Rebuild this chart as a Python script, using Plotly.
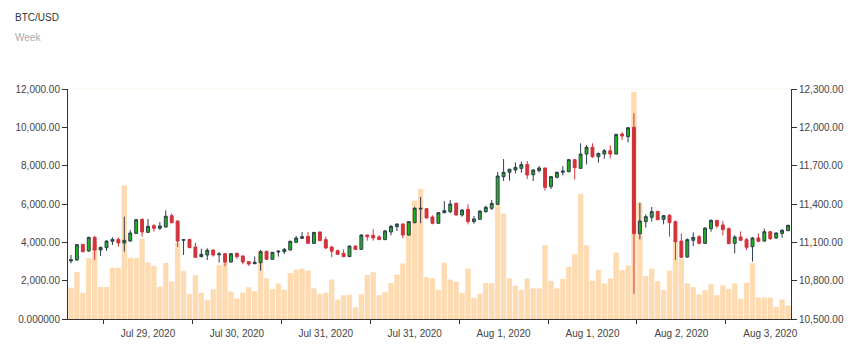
import plotly.graph_objects as go

# Hourly BTC/USD candles with traded volume underneath
volume = [
    1600, 2430, 1340, 3165, 3900, 1650, 1650, 2650, 2650, 6950,
    3180, 3150, 4175, 2920, 2745, 1670, 2900, 1930, 3950, 2485,
    1285, 2260, 1340, 957, 1530, 2785, 2940, 1410, 1045, 1355,
    1635, 1430, 3540, 2100, 1550, 1830, 1510, 2380, 2560, 2610,
    2500, 1580, 1290, 1360, 2040, 990, 1220, 1240, 590, 1270,
    2280, 2420, 1220, 1370, 1860, 2300, 2880, 5050, 6160, 6770,
    2170, 2100, 1510, 2910, 2035, 1930, 1340, 2610, 1080, 1300,
    1860, 1840, 5980, 5480, 2100, 1720, 1510, 2090, 1580, 1580,
    3830, 1970, 1580, 2070, 2700, 3360, 6500, 3830, 1980, 2540,
    1830, 2090, 3440, 2520, 2770, 11830, 6050, 2210, 2610, 1950,
    1480, 2500, 4050, 3110, 1840, 1650, 1270, 1480, 1790, 1220,
    1740, 1550, 1840, 1030, 1880, 2890, 1100, 1110, 1100, 610,
    990, 680,
]

open_ = [
    10954, 10962, 11084, 11032, 11139, 11040, 11058, 11108, 11123, 11095,
    11110, 11170, 11280, 11178, 11230, 11210, 11220, 11309, 11267, 11116,
    11123, 11063, 10988, 11001, 11040, 11003, 11011, 10946, 11014, 10993,
    10949, 10933, 10941, 11030, 10967, 11024, 11027, 11040, 11100, 11131,
    11147, 11092, 11181, 11121, 11063, 11035, 11014, 10988, 11071, 11045,
    11157, 11155, 11142, 11121, 11181, 11223, 11243, 11157, 11254, 11361,
    11363, 11298, 11249, 11332, 11340, 11405, 11314, 11358, 11262, 11280,
    11340, 11366, 11398, 11614, 11648, 11666, 11679, 11710, 11629, 11661,
    11682, 11536, 11609, 11648, 11653, 11747, 11679, 11791, 11844, 11770,
    11791, 11817, 11791, 11948, 11927, 12000, 11168, 11262, 11296, 11343,
    11280, 11311, 11262, 11110, 10985, 11116, 11144, 11092, 11207, 11272,
    11236, 11207, 11092, 11142, 11121, 11066, 11134, 11110, 11183, 11134,
    11170, 11191,
]
high = [
    11001, 11087, 11087, 11144, 11150, 11066, 11116, 11139, 11139, 11301,
    11197, 11283, 11288, 11283, 11243, 11259, 11350, 11327, 11270, 11126,
    11126, 11097, 11050, 11053, 11043, 11024, 11014, 11017, 11019, 10998,
    10951, 10990, 11040, 11032, 11024, 11040, 11056, 11113, 11150, 11181,
    11181, 11181, 11183, 11144, 11074, 11043, 11045, 11074, 11074, 11165,
    11160, 11204, 11157, 11197, 11236, 11249, 11249, 11267, 11379, 11455,
    11369, 11311, 11337, 11423, 11431, 11413, 11358, 11398, 11306, 11350,
    11387, 11431, 11650, 11752, 11676, 11726, 11731, 11736, 11672, 11697,
    11684, 11619, 11653, 11697, 11752, 11752, 11875, 11862, 11875, 11802,
    11830, 11859, 11950, 11961, 12003, 12110, 11410, 11319, 11377, 11345,
    11314, 11322, 11270, 11170, 11131, 11178, 11157, 11217, 11280, 11275,
    11267, 11215, 11155, 11186, 11134, 11142, 11170, 11207, 11189, 11178,
    11204, 11238,
]
low = [
    10936, 10957, 11022, 11027, 10962, 10993, 11032, 11079, 11066, 11027,
    11105, 11165, 11144, 11173, 11183, 11197, 11215, 11249, 11063, 11001,
    11056, 10980, 10983, 10962, 10988, 10941, 10912, 10941, 10970, 10928,
    10915, 10928, 10878, 10962, 10964, 10988, 11009, 11038, 11097, 11129,
    11089, 11089, 11110, 11048, 10983, 11003, 10985, 10985, 11043, 11043,
    11113, 11113, 11118, 11118, 11155, 11189, 11131, 11152, 11249, 11249,
    11288, 11241, 11246, 11327, 11327, 11309, 11301, 11241, 11246, 11277,
    11332, 11353, 11392, 11580, 11583, 11640, 11645, 11596, 11580, 11648,
    11504, 11517, 11601, 11624, 11648, 11593, 11676, 11710, 11762, 11723,
    11755, 11757, 11789, 11901, 11883, 10696, 11123, 11215, 11262, 11275,
    11241, 11144, 10962, 10977, 10980, 11071, 11084, 11087, 11183, 11210,
    11155, 11084, 11014, 11110, 11038, 10949, 11105, 11105, 11118, 11129,
    11136, 11189,
]
close = [
    10964, 11082, 11027, 11139, 11040, 11061, 11110, 11123, 11095, 11116,
    11173, 11277, 11181, 11225, 11210, 11228, 11304, 11254, 11110, 11121,
    11058, 10983, 11006, 11038, 11001, 11009, 10946, 11011, 10988, 10946,
    10930, 10944, 11027, 10967, 11022, 11030, 11045, 11108, 11134, 11144,
    11092, 11178, 11113, 11056, 11030, 11006, 10988, 11071, 11045, 11157,
    11144, 11134, 11121, 11189, 11225, 11243, 11157, 11262, 11366, 11366,
    11290, 11249, 11332, 11348, 11400, 11314, 11353, 11262, 11283, 11345,
    11374, 11405, 11619, 11648, 11672, 11687, 11708, 11627, 11666, 11682,
    11530, 11614, 11648, 11658, 11747, 11684, 11791, 11844, 11770, 11796,
    11817, 11791, 11945, 11932, 11997, 11168, 11267, 11301, 11340, 11277,
    11309, 11254, 11105, 10983, 11121, 11139, 11092, 11212, 11272, 11228,
    11199, 11090, 11142, 11116, 11061, 11134, 11108, 11183, 11129, 11173,
    11194, 11233,
]

# Date labels, one per 15-hour block on the time axis
tick_labels = [
    "Jul 29, 2020", "Jul 30, 2020", "Jul 31, 2020", "Jul 31, 2020",
    "Aug 1, 2020", "Aug 1, 2020", "Aug 2, 2020", "Aug 3, 2020",
]
first_block = 6
block_len = 15

vol_ticks = [0, 2000, 4000, 6000, 8000, 10000, 12000]
vol_tick_text = ["0.000000"] + [f"{v:,.2f}" for v in vol_ticks[1:]]
price_ticks = [10500, 10800, 11100, 11400, 11700, 12000, 12300]
price_tick_text = [f"{v:,.2f}" for v in price_ticks]

n = len(volume)
idx = list(range(n))
block_edges = [first_block - 0.5 + block_len * k for k in range(len(tick_labels))]
block_mids = [e + block_len / 2 for e in block_edges]

FONT = "Arial, 'Liberation Sans', sans-serif"
AXIS = "#333333"
TEXT = "#444444"

fig = go.Figure()
fig.add_trace(go.Bar(
    x=idx, y=volume, xaxis="x", yaxis="y",
    marker=dict(color="#FFDBB0", line=dict(color="#FDD2A2", width=0.6)),
    hoverinfo="skip", showlegend=False,
))
fig.add_trace(go.Candlestick(
    x=idx, open=open_, high=high, low=low, close=close,
    xaxis="x", yaxis="y2",
    increasing=dict(line=dict(color="#2F3D4C", width=1), fillcolor="#1FB21F"),
    decreasing=dict(line=dict(color="#D2343C", width=1), fillcolor="#D2343C"),
    whiskerwidth=0, showlegend=False,
))

xr = [-0.5, n - 0.5]
fig.update_layout(
    width=865, height=350,
    margin=dict(l=68, r=74, t=89, b=31),
    paper_bgcolor="white", plot_bgcolor="white",
    bargap=0.25, boxgap=0.3,
    font=dict(family=FONT, size=10, color=TEXT),
    xaxis=dict(
        range=xr, showgrid=False, zeroline=False,
        showline=True, linecolor=AXIS, linewidth=1,
        tickmode="array", tickvals=block_mids, ticktext=tick_labels,
        ticks="outside", ticklen=5, tickcolor="rgba(0,0,0,0)",
        minor=dict(tickmode="array", tickvals=block_edges, ticks="outside",
                   ticklen=4, tickcolor=AXIS, tickwidth=1, showgrid=False),
        rangeslider=dict(visible=False),
        tickfont=dict(family=FONT, size=10, color=TEXT),
    ),
    yaxis=dict(
        range=[0, 12000], side="left", showgrid=False, zeroline=False,
        showline=True, linecolor=AXIS, linewidth=1,
        tickmode="array", tickvals=vol_ticks, ticktext=vol_tick_text,
        ticks="outside", ticklen=5, tickcolor=AXIS,
        tickfont=dict(family=FONT, size=10, color=TEXT),
    ),
    yaxis2=dict(
        range=[10500, 12300], side="right", overlaying="y",
        showgrid=False, zeroline=False,
        showline=True, linecolor=AXIS, linewidth=1,
        tickmode="array", tickvals=price_ticks, ticktext=price_tick_text,
        ticks="outside", ticklen=5, tickcolor=AXIS,
        tickfont=dict(family=FONT, size=10, color=TEXT),
    ),
    shapes=[dict(type="line", xref="paper", yref="paper", x0=0, x1=1, y0=1, y1=1,
                 line=dict(color="#FBF2E9", width=1), layer="below")],
    annotations=[
        dict(text="BTC/USD", xref="paper", yref="paper", x=-0.0761, y=1.313,
             xanchor="left", yanchor="middle", showarrow=False,
             font=dict(family=FONT, size=10, color="#333333")),
        dict(text="Week", xref="paper", yref="paper", x=-0.0761, y=1.222,
             xanchor="left", yanchor="middle", showarrow=False,
             font=dict(family=FONT, size=10, color="#AAAAAA")),
    ],
)

fig.write_html("out.html")
